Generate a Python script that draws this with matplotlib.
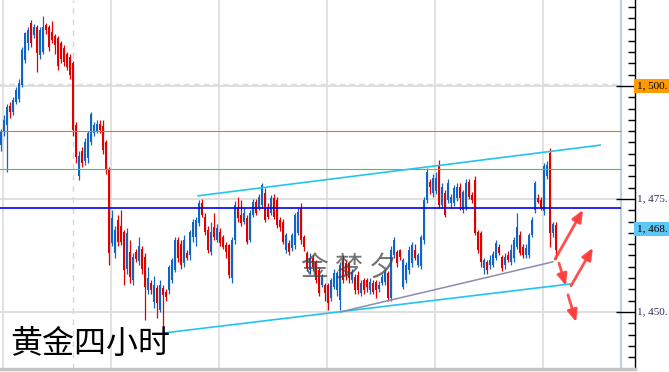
import matplotlib
matplotlib.use("Agg")
import matplotlib.pyplot as plt
from matplotlib.ticker import FixedLocator, MultipleLocator, NullFormatter
import numpy as np

# gold, 4 hour bars
opens = [1486.9, 1489.8, 1491.4, 1495.5, 1494.2, 1496.5, 1497.0, 1500.2, 1505.8, 1509.5,
         1513.9, 1511.3, 1513.0, 1506.9, 1507.5, 1513.5, 1513.0, 1512.0, 1511.0, 1510.5,
         1509.5, 1508.4, 1507.0, 1506.4, 1505.1, 1491.4, 1480.0, 1485.5, 1483.5, 1484.0,
         1487.5, 1489.6, 1490.0, 1491.6, 1491.2, 1487.6, 1481.4,
         1465.3, 1463.0, 1470.4, 1469.0, 1467.7, 1459.5, 1463.2, 1457.0, 1463.2, 1461.2,
         1464.0, 1462.2, 1454.8, 1456.5, 1452.2, 1455.3, 1450.4, 1455.3, 1454.4, 1454.9,
         1457.1, 1459.3, 1465.9, 1465.0, 1460.8, 1463.0, 1462.5, 1466.6, 1466.6, 1469.7,
         1474.1, 1471.0, 1468.1, 1463.3, 1468.8, 1466.0, 1467.7,
         1466.6, 1464.8, 1464.8, 1457.5, 1465.9, 1473.0, 1471.5, 1469.9, 1470.8, 1465.9,
         1471.5, 1474.3, 1473.2, 1473.7, 1476.3, 1473.3, 1471.9, 1475.2, 1474.8, 1470.4,
         1469.9, 1463.7, 1465.3, 1464.2, 1464.8, 1467.5, 1473.0, 1466.6, 1463.0, 1459.3,
         1462.0, 1461.1, 1459.3, 1456.0, 1456.0, 1456.0, 1453.1,
         1455.6, 1454.9, 1452.7, 1461.5, 1460.8, 1460.8, 1457.1, 1457.7, 1458.2, 1454.2,
         1457.1, 1457.1, 1454.9, 1456.5, 1456.6, 1455.0, 1456.4, 1456.6, 1458.6, 1453.1,
         1462.6, 1463.2, 1463.7, 1455.5, 1457.1, 1459.3, 1460.8, 1463.7, 1460.4, 1460.2,
         1465.9, 1474.8, 1478.8, 1476.3, 1476.8, 1482.5,
         1473.7, 1476.3, 1474.8, 1474.0, 1474.1, 1475.2, 1477.7, 1472.6, 1473.3, 1478.8,
         1475.9, 1479.2, 1467.7, 1467.5, 1459.7, 1461.1, 1460.4, 1460.5, 1461.9, 1464.4,
         1462.2, 1460.4, 1462.6, 1461.1, 1461.9, 1464.4, 1467.0, 1464.4, 1462.6, 1462.6,
         1467.0, 1472.6, 1475.2, 1474.8, 1472.3, 1480.0, 1485.2, 1467.5, 1469.2]
highs = [1490.5, 1493.5, 1496.0, 1496.5, 1497.5, 1499.8, 1501.5, 1508.5, 1512.0, 1513.0,
         1514.5, 1513.8, 1513.5, 1513.0, 1515.5, 1514.0, 1513.5, 1514.3, 1511.5, 1511.0,
         1510.0, 1509.0, 1507.5, 1507.0, 1505.5, 1492.0, 1485.5, 1486.5, 1488.5, 1490.0,
         1494.2, 1492.0, 1492.5, 1492.5, 1492.5, 1488.0, 1482.0,
         1472.5, 1469.0, 1471.5, 1472.6, 1468.2, 1468.5, 1466.0, 1463.0, 1464.0, 1466.5,
         1464.5, 1463.0, 1460.0, 1457.0, 1458.0, 1456.0, 1457.0, 1456.0, 1455.0, 1460.5,
         1462.0, 1466.5, 1466.5, 1466.0, 1467.0, 1463.8, 1468.2, 1470.5, 1471.0, 1474.8,
         1475.0, 1472.0, 1469.0, 1470.0, 1472.0, 1469.5, 1468.5,
         1467.0, 1465.5, 1465.0, 1466.5, 1474.5, 1475.5, 1474.8, 1473.0, 1471.5, 1472.5,
         1475.0, 1475.0, 1476.0, 1478.5, 1477.5, 1474.0, 1475.8, 1476.0, 1475.5, 1471.0,
         1470.5, 1467.5, 1466.0, 1467.5, 1472.0, 1473.0, 1474.0, 1467.0, 1463.5, 1463.0,
         1462.5, 1461.5, 1460.0, 1458.5, 1456.5, 1456.5, 1457.5,
         1459.5, 1459.0, 1461.0, 1462.5, 1461.5, 1461.0, 1459.5, 1458.5, 1459.0, 1457.0,
         1457.5, 1457.5, 1457.5, 1457.0, 1457.0, 1456.8, 1458.5, 1459.5, 1459.0, 1464.5,
         1466.5, 1463.8, 1464.0, 1462.0, 1461.0, 1464.5, 1465.5, 1465.0, 1463.0, 1467.0,
         1475.5, 1481.8, 1479.5, 1480.5, 1481.0, 1483.6,
         1478.5, 1477.0, 1479.5, 1476.0, 1478.0, 1478.5, 1478.5, 1477.0, 1479.5, 1479.5,
         1476.5, 1480.0, 1468.2, 1468.0, 1462.0, 1461.5, 1462.5, 1463.5, 1466.0, 1465.0,
         1462.5, 1463.0, 1463.5, 1465.0, 1466.5, 1472.0, 1468.0, 1465.0, 1465.0, 1467.5,
         1471.0, 1479.0, 1476.0, 1475.5, 1483.0, 1483.5, 1486.3, 1470.0, 1470.0]
lows = [1485.5, 1489.0, 1481.0, 1493.0, 1493.5, 1496.0, 1496.5, 1499.8, 1505.0, 1508.0,
        1508.5, 1510.5, 1503.0, 1506.0, 1507.0, 1511.5, 1507.8, 1509.5, 1507.0, 1503.5,
        1505.0, 1504.5, 1503.5, 1501.5, 1489.0, 1483.0, 1479.2, 1482.0, 1482.5, 1483.0,
        1487.0, 1489.0, 1489.5, 1489.5, 1485.0, 1480.5, 1460.4,
        1464.5, 1462.0, 1464.5, 1464.8, 1456.0, 1458.5, 1456.5, 1456.0, 1461.0, 1460.5,
        1458.5, 1448.2, 1454.0, 1454.0, 1451.0, 1448.6, 1450.0, 1445.4, 1452.5, 1454.0,
        1456.5, 1458.8, 1461.0, 1459.5, 1460.0, 1461.5, 1461.5, 1465.5, 1464.5, 1469.0,
        1471.0, 1467.0, 1463.0, 1462.5, 1466.0, 1465.5, 1464.5,
        1464.0, 1462.0, 1457.5, 1456.4, 1465.0, 1470.0, 1469.0, 1469.5, 1465.0, 1465.5,
        1471.0, 1471.5, 1472.5, 1473.0, 1470.0, 1470.5, 1471.5, 1470.5, 1468.5, 1468.0,
        1465.0, 1463.0, 1462.5, 1463.5, 1464.0, 1467.0, 1465.0, 1463.5, 1459.0, 1458.5,
        1459.0, 1456.5, 1453.5, 1455.5, 1452.5, 1450.5, 1452.5,
        1455.0, 1453.5, 1450.4, 1456.5, 1457.0, 1456.5, 1456.5, 1454.0, 1454.0, 1453.5,
        1454.0, 1454.5, 1454.0, 1454.0, 1453.0, 1454.5, 1456.0, 1456.0, 1452.5, 1452.5,
        1462.0, 1460.0, 1461.5, 1455.0, 1456.5, 1458.5, 1460.0, 1461.5, 1460.0, 1459.5,
        1465.0, 1474.0, 1476.0, 1475.5, 1476.0, 1473.0,
        1473.0, 1471.0, 1474.0, 1473.0, 1473.5, 1474.5, 1472.5, 1472.0, 1472.5, 1475.0,
        1474.0, 1467.0, 1463.0, 1460.0, 1458.5, 1458.5, 1459.5, 1460.0, 1461.5, 1462.5,
        1459.0, 1459.5, 1461.0, 1460.5, 1461.0, 1464.0, 1462.5, 1462.0, 1462.0, 1462.0,
        1466.5, 1472.0, 1474.0, 1472.5, 1471.5, 1479.5, 1464.4, 1466.5, 1461.7]
closes = [1489.8, 1492.5, 1495.3, 1494.2, 1496.9, 1499.1, 1500.6, 1508.0, 1511.7, 1512.4,
          1509.5, 1513.0, 1507.3, 1512.4, 1513.0, 1512.4, 1508.5, 1510.2, 1509.1, 1504.5,
          1506.0, 1505.3, 1504.2, 1502.4, 1490.3, 1484.3, 1484.5, 1483.0, 1487.5, 1489.5,
          1493.8, 1491.4, 1491.5, 1490.2, 1485.8, 1481.4, 1463.0,
          1470.8, 1468.1, 1465.5, 1465.5, 1459.3, 1467.5, 1457.7, 1462.2, 1461.8, 1464.6,
          1459.5, 1455.5, 1457.5, 1454.9, 1456.0, 1452.0, 1456.0, 1453.8, 1453.3, 1459.9,
          1461.5, 1465.9, 1462.0, 1460.4, 1465.9, 1462.0, 1467.7, 1469.9, 1470.4, 1474.1,
          1471.5, 1467.7, 1463.7, 1467.7, 1466.6, 1468.6, 1465.3,
          1464.4, 1463.3, 1458.2, 1465.9, 1473.7, 1470.8, 1469.7, 1471.9, 1465.5, 1471.9,
          1474.3, 1471.9, 1475.4, 1478.1, 1470.4, 1471.0, 1475.2, 1471.0, 1469.2, 1468.8,
          1465.5, 1467.0, 1463.3, 1467.0, 1471.5, 1472.1, 1465.9, 1464.4, 1459.7, 1462.0,
          1460.0, 1457.1, 1454.2, 1457.7, 1454.2, 1452.0, 1457.1,
          1458.6, 1458.6, 1460.4, 1457.1, 1458.2, 1457.5, 1458.8, 1454.9, 1454.9, 1456.4,
          1454.9, 1455.5, 1456.6, 1454.4, 1454.9, 1456.0, 1457.7, 1458.8, 1453.1, 1463.7,
          1465.9, 1460.8, 1462.2, 1461.5, 1460.4, 1463.7, 1464.8, 1462.0, 1462.6, 1466.6,
          1474.8, 1481.0, 1477.7, 1479.6, 1479.6, 1473.7,
          1477.7, 1471.5, 1478.6, 1475.4, 1477.5, 1477.7, 1475.2, 1476.5, 1478.6, 1475.4,
          1474.8, 1467.5, 1463.7, 1461.1, 1461.5, 1459.3, 1461.5, 1462.8, 1465.2, 1463.0,
          1459.7, 1462.2, 1461.5, 1463.7, 1465.9, 1468.8, 1463.0, 1462.6, 1464.2, 1467.0,
          1470.4, 1478.5, 1474.4, 1473.0, 1482.2, 1482.5, 1467.5, 1469.5, 1463.7]

levelPrices = [1490.0, 1481.6, 1473.0]
levelColors = ["#f07020", "#30d830", "#0000ee"]
levelWidths = [0.8, 0.8, 1.2]
gridPrices = [1450, 1475, 1500]
gridBars = [0.7, 36.7, 72.7, 108.7, 144.7, 180.7]
dayBreak = 24.0
lastPrice = 1468.4

upperChannel = [(65.7, 1475.7), (199.7, 1486.9)]
lowerChannel = [(54.7, 1445.4), (189.7, 1456.2)]
supportLine = [(113.0, 1450.0), (184.0, 1461.1)]
arrows = [((184.7, 1461.7), (194.0, 1472.6)),
          ((186.0, 1460.8), (188.3, 1455.8)),
          ((190.0, 1455.8), (197.3, 1464.2)),
          ((189.0, 1453.8), (191.7, 1447.8))]

BLUE = "#1064c4"
RED = "#e00000"
W, H = 669, 372

plt.rcParams['font.family'] = ['Noto Sans CJK SC', 'DejaVu Sans']

fig = plt.figure(figsize=(W / 100, H / 100), dpi=100)
fig.patch.set_facecolor("white")
ax = fig.add_axes([0, 3 / H, 635 / W, 369 / H])

idx = np.arange(len(closes))
o = np.array(opens)
c = np.array(closes)
up = c >= o
colors = np.where(up, BLUE, RED)

# grid
lineEnd = (621 - 1) / 3
for p in gridPrices:
    ax.hlines(p, -1, lineEnd, color="#d9d9d9", lw=1.2, zorder=1)
ax.hlines(gridPrices[-1] + 0.35, -1, lineEnd, color="#dddddd", lw=1.0, ls=(0, (4, 3)), zorder=1)
for b in gridBars:
    ax.axvline(b, color="#dcdcdc", lw=1.2, zorder=1)
ax.axvline(dayBreak, color="#d6d6d6", lw=1.0, ls=(0, (4, 4)), zorder=1)
ax.axvline(lineEnd, color="#c6cfdc", lw=1.6, zorder=1)

# candles
ax.vlines(idx, lows, highs, colors=colors, lw=0.9, zorder=2)
bottoms = np.minimum(o, c)
heights = np.maximum(np.abs(c - o), 0.3)
ax.bar(idx, heights, bottom=bottoms, width=0.55, color=colors, lw=0, zorder=2)

# key levels
for p, col, lw in zip(levelPrices, levelColors, levelWidths):
    ax.hlines(p, -1, lineEnd, color=col, lw=lw, zorder=3)

# trend lines
for seg, col, lw in [(upperChannel, "#22c4f0", 1.2), (lowerChannel, "#22c4f0", 1.2),
                     (supportLine, "#8c8cb0", 1.1)]:
    xs, ys = zip(*seg)
    ax.plot(xs, ys, color=col, lw=lw, zorder=4)

for start, end in arrows:
    ax.annotate("", xy=end, xytext=start,
                arrowprops=dict(arrowstyle="-|>,head_length=0.7,head_width=0.3",
                                color="#ff3c3c", lw=2.0, alpha=0.9,
                                shrinkA=0, shrinkB=0), zorder=5)

ax.set_xlim(-1 / 3, (635 - 1) / 3)
ax.set_ylim(1437.4, 1519.0)

for side in ["left", "top"]:
    ax.spines[side].set_visible(False)
ax.spines["right"].set_color("black")
ax.spines["right"].set_linewidth(1.0)
ax.spines["bottom"].set_color("#c4c4c4")
ax.spines["bottom"].set_linewidth(2.5)
ax.set_xticks([])
ax.yaxis.tick_right()
ax.yaxis.set_major_locator(FixedLocator(gridPrices))
ax.yaxis.set_minor_locator(MultipleLocator(2.5))
ax.yaxis.set_major_formatter(NullFormatter())
ax.tick_params(axis="y", which="major", direction="in", length=14, width=1, color="black")
ax.tick_params(axis="y", which="minor", direction="in", length=5, width=1, color="black")

labelX = 637 / 635
labelFont = dict(fontsize=8, family="Liberation Serif", ha="left", va="center", clip_on=False)
for p in gridPrices:
    box = None
    if p == 1500:
        box = dict(boxstyle="square,pad=0.25", fc="#ff9a00", ec="none")
    ax.text(labelX, p, f"1, {p - 1000:03d}.", transform=ax.get_yaxis_transform(),
            color="black" if box else "#30305a", bbox=box, **labelFont)
ax.text(labelX, lastPrice, "1, 468.", transform=ax.get_yaxis_transform(),
        color="black", bbox=dict(boxstyle="square,pad=0.25", fc="#5ec8f4", ec="none"),
        **labelFont)

fig.text(10 / W, 1 - 344 / H, "黄金四小时", ha="left", va="center", fontsize=23,
         color="black", family=["Noto Sans CJK SC", "DejaVu Sans"], zorder=6)
fig.text(349 / W, 1 - 268 / H, "金 梦 夕", ha="center", va="center", fontsize=20,
         color="#444444", alpha=0.75, family=["Noto Sans CJK SC", "DejaVu Sans"], zorder=6)

fig.savefig("out.png", dpi=100)
